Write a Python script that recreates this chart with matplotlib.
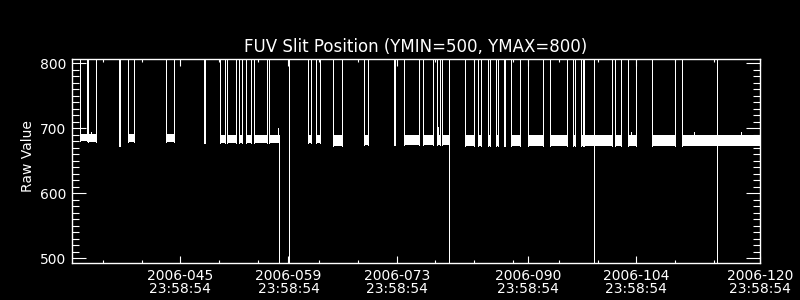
import matplotlib
matplotlib.use("Agg")
import matplotlib.pyplot as plt
from matplotlib.ticker import FixedLocator, FixedFormatter, NullFormatter

title = "FUV Slit Position (YMIN=500, YMAX=800)"
ylabel = "Raw Value"

# Periods where the slit position reads in range (x = day of year 2006)
block_start = [32.07, 33.11, 37.03, 38.19, 43.16, 48.02, 50.09, 51.08, 52.66, 53.47,
               54.48, 56.45, 61.56, 62.55, 64.70, 68.76, 72.59, 74.01, 76.47, 78.20,
               78.89, 81.90, 83.50, 84.83, 85.87, 86.84, 87.85, 90.01, 92.89, 95.86,
               96.90, 97.21, 101.26, 102.98, 106.08, 109.96]
block_end = [32.91, 34.10, 37.21, 38.97, 44.19, 48.20, 50.76, 52.21, 53.02, 54.12,
             56.19, 57.83, 61.91, 63.07, 65.99, 69.28, 72.81, 75.95, 77.68, 78.63,
             79.83, 83.06, 83.97, 85.09, 86.13, 86.97, 89.01, 91.99, 95.01, 96.05,
             97.08, 100.91, 101.99, 103.97, 109.05, 119.94]
block_lo = [680, 679, 673, 679, 679, 678, 678, 678, 678, 678,
            677, 677, 677, 677, 673, 674, 674, 674, 674, 674,
            674, 673, 673, 673, 673, 673, 673, 673, 673, 673,
            673, 673, 673, 673, 673, 673]
block_hi = [692, 692, 691, 691, 691, 690, 690, 690, 690, 690,
            690, 690, 690, 690, 690, 690, 690, 690, 690, 690,
            690, 689, 689, 689, 689, 689, 689, 689, 689, 689,
            689, 689, 689, 689, 689, 689]
# value the signal jumps to after each block (off-scale high or low)
block_exit = [1000, 1000, 1000, 1000, 1000, 1000, 1000, 1000, 1000, 1000,
              1000, 0, 1000, 1000, 1000, 1000, 1000, 1000, 1000, 1000,
              1000, 1000, 1000, 1000, 1000, 1000, 1000, 1000, 1000, 1000,
              1000, 1000, 1000, 1000, 1000, 1000]
entry_level = 1000

# short upward spikes inside blocks
bump_day = [33.50, 54.57, 57.68, 78.30, 103.37, 111.51, 117.51]
bump_val = [694, 702, 701, 702, 695, 695, 694]

# full-range excursions (off-scale low to off-scale high)
drop_day = [59.01, 79.83, 98.58, 114.49]
drop_lo = [0, 0, 0, 0]
drop_hi = [1000, 1000, 1000, 1000]

major_days = [45, 59, 73, 90, 104, 120]
major_labels = ["2006-045\n23:58:54", "2006-059\n23:58:54", "2006-073\n23:58:54",
                "2006-090\n23:58:54", "2006-104\n23:58:54", "2006-120\n23:58:54"]
minor_days = [35, 40, 50, 55, 63, 68, 78, 83, 88, 94, 99, 109, 114]
y_major = [500, 600, 700, 800]
y_minor = list(range(500, 810, 10))

FG = "white"
BG = "black"
plt.rcParams["font.family"] = ["DejaVu Sans"]

fig = plt.figure(figsize=(8, 3), dpi=100, facecolor=BG)
ax = fig.add_axes([0.09, 1 - 263 / 300, (760 - 72) / 800, (263 - 59) / 300])
ax.set_facecolor(BG)

lw = 0.72
for s, e, lo, hi, ex in zip(block_start, block_end, block_lo, block_hi, block_exit):
    ax.fill_between([s, e], [lo, lo], [hi, hi], color=FG, lw=0, antialiased=False)
    ax.vlines(s, lo, entry_level, color=FG, lw=lw, antialiased=False)
    if ex > hi:
        ax.vlines(e, lo, ex, color=FG, lw=lw, antialiased=False)
    else:
        ax.vlines(e, ex, hi, color=FG, lw=lw, antialiased=False)

for d, v, in zip(bump_day, bump_val):
    ax.vlines(d, 680, v, color=FG, lw=lw, antialiased=False)

for d, lo, hi in zip(drop_day, drop_lo, drop_hi):
    ax.vlines(d, lo, hi, color=FG, lw=lw, antialiased=False)

ax.set_xlim(31, 120)
ax.set_ylim(492.8, 806.6)

for sp in ax.spines.values():
    sp.set_color(FG)
    sp.set_linewidth(1.0)

ax.xaxis.set_major_locator(FixedLocator(major_days))
ax.xaxis.set_major_formatter(FixedFormatter(major_labels))
ax.xaxis.set_minor_locator(FixedLocator(minor_days))
ax.yaxis.set_major_locator(FixedLocator(y_major))
ax.yaxis.set_minor_locator(FixedLocator(y_minor))
ax.yaxis.set_minor_formatter(NullFormatter())

ax.tick_params(axis="x", which="major", direction="in", length=4.8, width=0.8,
               color=FG, labelcolor=FG, labelsize=10, pad=4, top=True, bottom=True)
ax.tick_params(axis="x", which="minor", direction="in", length=2.4, width=0.8,
               color=FG, top=True, bottom=True)
ax.tick_params(axis="y", which="major", direction="in", length=10, width=0.8,
               color=FG, labelcolor=FG, labelsize=10, pad=4, left=True, right=True)
ax.tick_params(axis="y", which="minor", direction="in", length=5, width=0.8,
               color=FG, left=True, right=True)
for lbl in ax.get_xticklabels():
    lbl.set_linespacing(0.95)

fig.text(416 / 800, 1 - 47 / 300, title, color=FG, fontsize=12, ha="center", va="center")
fig.text(28 / 800, 1 - 156 / 300, ylabel, color=FG, fontsize=10, rotation=90,
         ha="center", va="center")

fig.savefig("out.png", dpi=100, facecolor=BG)
